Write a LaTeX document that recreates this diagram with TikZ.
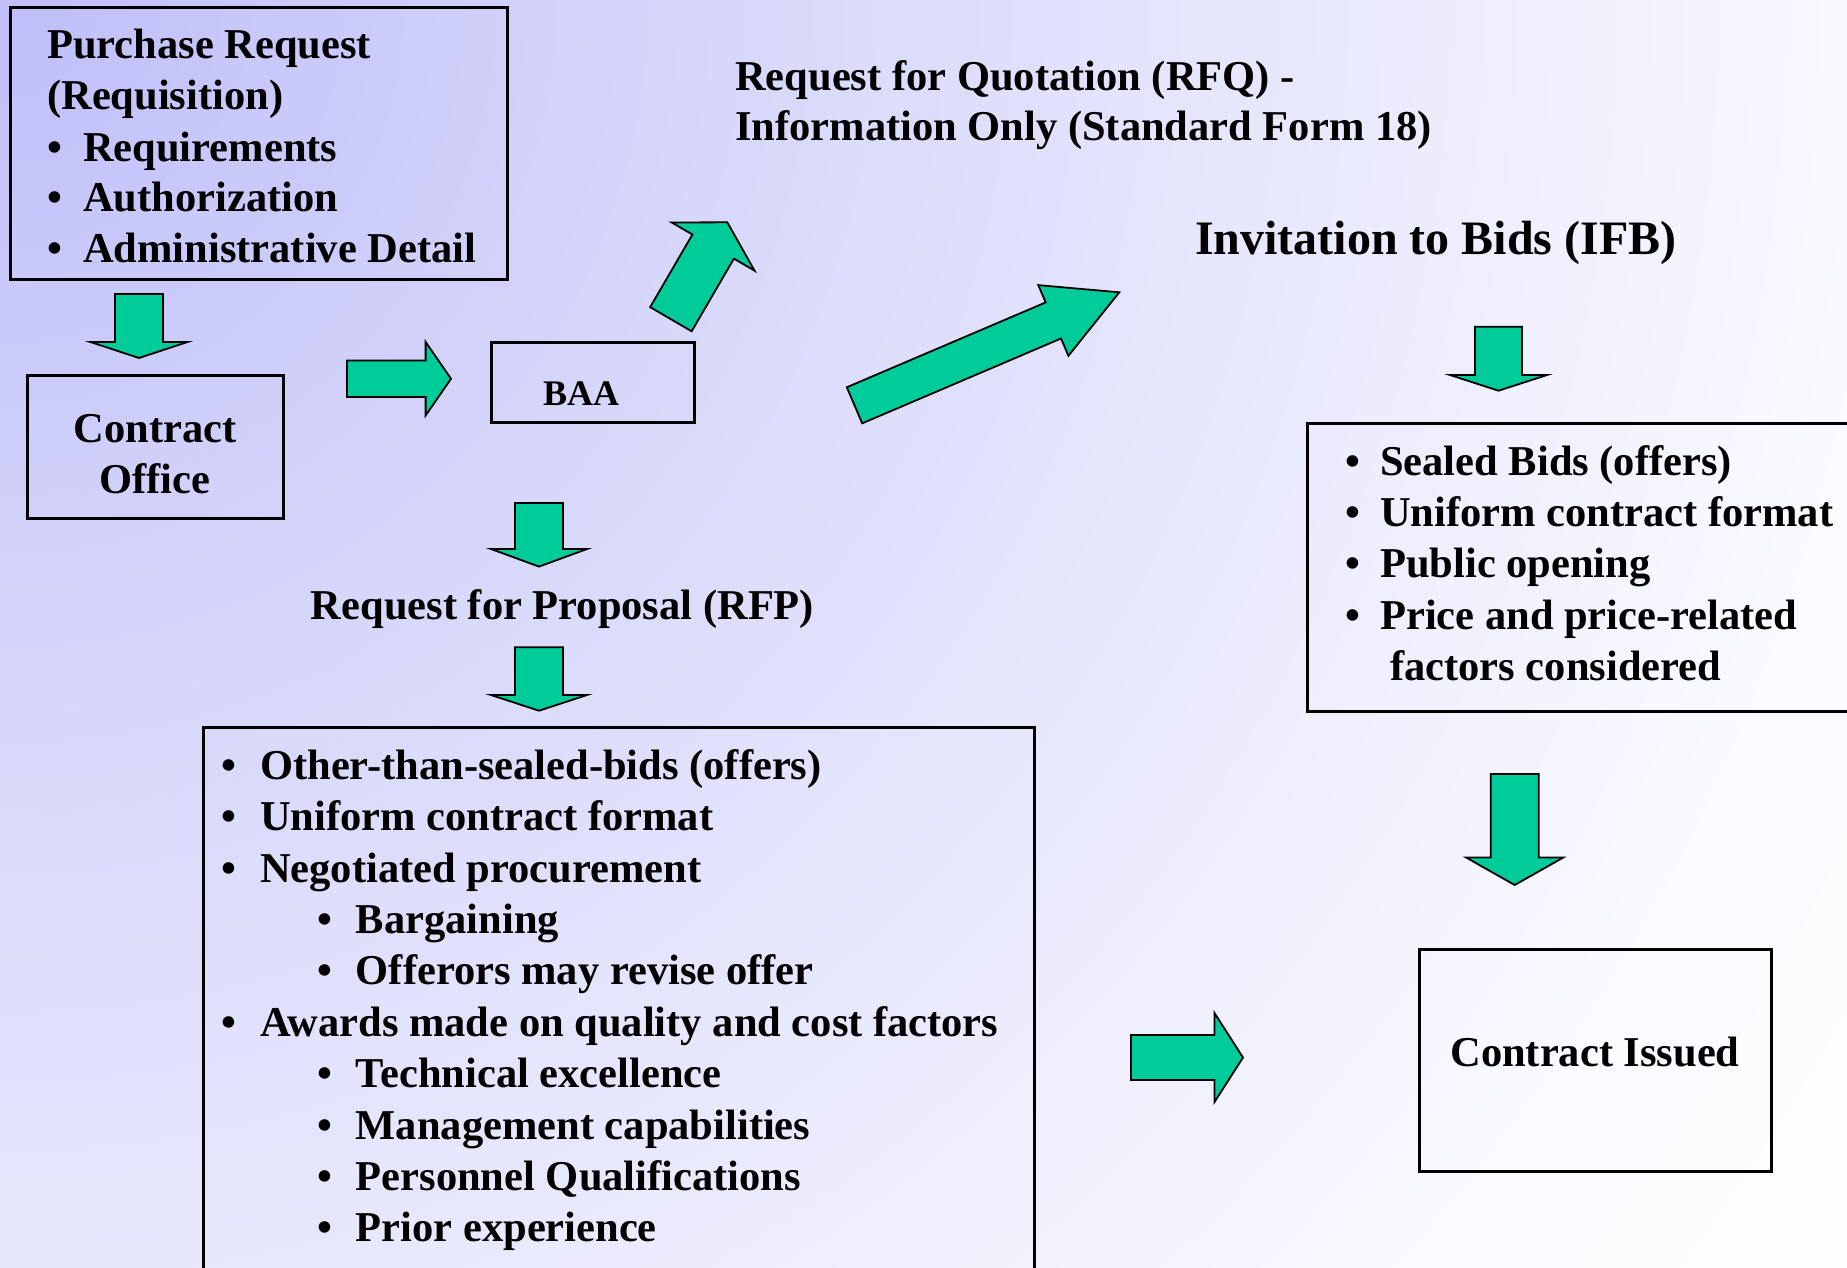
\documentclass[tikz,border=0pt]{standalone}
\usepackage{fontspec}
\setmainfont{Liberation Serif}
\usetikzlibrary{calc,fit}

\definecolor{arrowgreen}{RGB}{0,204,153}

% soft lavender wash spreading from the top-left corner
\pgfdeclareradialshading{pagewash}{\pgfpoint{0pt}{0pt}}{%
  rgb(0pt)=(0.75,0.75,0.98);
  rgb(700pt)=(0.84,0.84,0.98);
  rgb(1300pt)=(0.91,0.91,0.99);
  rgb(1900pt)=(0.98,0.98,1);
  rgb(2300pt)=(1,1,1)}

\newcommand\bodyfont{\fontsize{42.5}{51}\selectfont\bfseries}
\newcommand\bul[2]{\makebox[#1pt][l]{\textbullet}#2}

% block arrow: tail, tip, shaft half-width, head half-width, head length
\newcommand\blockarrow[5]{%
  \coordinate (neck) at ($(#2)!#5pt!(#1)$);
  \draw[blockarrow]
    ($(#1)!#3pt!90:(#2)$) -- ($(neck)!#3pt!90:(#2)$) --
    ($(neck)!#4pt!90:(#2)$) -- (#2) --
    ($(neck)!#4pt!-90:(#2)$) -- ($(neck)!#3pt!-90:(#2)$) --
    ($(#1)!#3pt!-90:(#2)$) -- cycle;}

\tikzset{
  frame/.style={draw=black, line width=3pt, inner sep=0pt, outer sep=0pt},
  txt/.style={inner sep=0pt, anchor=base west, font=\bodyfont},
  blockarrow/.style={fill=arrowgreen, draw=black, line width=1.8pt, line join=miter},
}

\begin{document}
\begin{tikzpicture}[x=1pt,y=-1pt]
\useasboundingbox (0,0) rectangle (1847,1267);
\begin{scope}
\clip (0,0) rectangle (1847,1267);
\pgfuseshading{pagewash}

% ---------- boxes ----------
\coordinate (pr-nw) at (10.7,7);    \coordinate (pr-se) at (507,279);
\coordinate (co-nw) at (27,375);    \coordinate (co-se) at (283,518);
\coordinate (baa-nw) at (491,342);  \coordinate (baa-se) at (694,422);
\coordinate (ifb-nw) at (1307,423); \coordinate (ifb-se) at (1870,711);
\coordinate (rfp-nw) at (203,727);  \coordinate (rfp-se) at (1034,1300);
\coordinate (ci-nw) at (1419,949);  \coordinate (ci-se) at (1771,1171);

\node[frame, fit=(pr-nw)(pr-se)] (pr) {};
\node[frame, fit=(co-nw)(co-se)] (co) {};
\node[frame, fit=(baa-nw)(baa-se)] (baa) {};
\node[frame, fit=(ifb-nw)(ifb-se)] (ifb) {};
\node[frame, fit=(rfp-nw)(rfp-se)] (rfp) {};
\node[frame, fit=(ci-nw)(ci-se)] (ci) {};

% ---------- texts ----------
\node[txt] (pr-l1) at (47,58)  {Purchase Request};
\node[txt] (pr-l2) at (47,109) {(Requisition)};
\node[txt] (pr-l3) at (47,161) {\bul{36}{Requirements}};
\node[txt] (pr-l4) at (47,211) {\bul{36}{Authorization}};
\node[txt] (pr-l5) at (47,262) {\bul{36}{Administrative Detail}};

\node[txt, anchor=base] (co-l1) at (155,442) {Contract};
\node[txt, anchor=base] (co-l2) at (155,493) {Office};

\node[txt, anchor=base, font=\fontsize{36}{43}\selectfont\bfseries] (baa-t) at (581,405) {BAA};

\node[txt] (rfq-l1) at (735,90)  {Request for Quotation (RFQ) -};
\node[txt] (rfq-l2) at (735,140) {Information Only (Standard Form 18)};

\node[txt, font=\fontsize{48}{58}\selectfont\bfseries] (ifb-t) at (1195,254) {Invitation to Bids (IFB)};

\node[txt] (ifb-l1) at (1345,475.2) {\bul{35}{Sealed Bids (offers)}};
\node[txt] (ifb-l2) at (1345,526)   {\bul{35}{Uniform contract format}};
\node[txt] (ifb-l3) at (1345,577.5) {\bul{35}{Public opening}};
\node[txt] (ifb-l4) at (1345,629)   {\bul{35}{Price and price-related}};
\node[txt] (ifb-l5) at (1390,680.2) {factors considered};

\node[txt] (rfp-t) at (310.7,619.3) {Request for Proposal (RFP)};

\node[txt] (rfp-l1)  at (221,779.3)  {\bul{39}{Other-than-sealed-bids (offers)}};
\node[txt] (rfp-l2)  at (221,830.7)  {\bul{39}{Uniform contract format}};
\node[txt] (rfp-l3)  at (221,882.1)  {\bul{39}{Negotiated procurement}};
\node[txt] (rfp-l4)  at (317,933.5)  {\bul{38.7}{Bargaining}};
\node[txt] (rfp-l5)  at (317,984.9)  {\bul{38.7}{Offerors may revise offer}};
\node[txt] (rfp-l6)  at (221,1036.3) {\bul{39}{Awards made on quality and cost factors}};
\node[txt] (rfp-l7)  at (317,1087.7) {\bul{38.7}{Technical excellence}};
\node[txt] (rfp-l8)  at (317,1139.1) {\bul{38.7}{Management capabilities}};
\node[txt] (rfp-l9)  at (317,1190.5) {\bul{38.7}{Personnel Qualifications}};
\node[txt] (rfp-l10) at (317,1241.9) {\bul{38.7}{Prior experience}};

\node[txt, anchor=base] (ci-t) at (1595,1066) {Contract Issued};

% ---------- block arrows ----------
\coordinate (a1-tail) at (139,294);      \coordinate (a1-tip) at (139,358);
\coordinate (a2-tail) at (347,378.75);   \coordinate (a2-tip) at (451,378.75);
\coordinate (a3-tail) at (670.9,319.2);  \coordinate (a3-tip) at (727.3,222.3);
\coordinate (a4-tail) at (854.5,405.3);  \coordinate (a4-tip) at (1119.3,292.3);
\coordinate (a5-tail) at (539,503);      \coordinate (a5-tip) at (539,566.6);
\coordinate (a6-tail) at (539,647.3);    \coordinate (a6-tip) at (539,710.7);
\coordinate (a7-tail) at (1498.5,326.7); \coordinate (a7-tip) at (1498.5,390.7);
\coordinate (a8-tail) at (1514.7,774);   \coordinate (a8-tip) at (1514.7,885);
\coordinate (a9-tail) at (1131,1057.5);  \coordinate (a9-tip) at (1243,1057.5);

\blockarrow{a1-tail}{a1-tip}{24}{48.5}{16}
\blockarrow{a2-tail}{a2-tip}{18.25}{36.8}{25.4}
\blockarrow{a3-tail}{a3-tip}{24}{47.9}{28.1}
\blockarrow{a4-tail}{a4-tip}{19.6}{38.4}{71.7}
\blockarrow{a5-tail}{a5-tip}{24}{48}{17.6}
\blockarrow{a6-tail}{a6-tip}{24}{48}{15.7}
\blockarrow{a7-tail}{a7-tip}{23.5}{48.5}{15.7}
\blockarrow{a8-tail}{a8-tip}{24}{48.6}{27.5}
\blockarrow{a9-tail}{a9-tip}{22.5}{44.5}{28.5}
\end{scope}
\end{tikzpicture}
\end{document}
